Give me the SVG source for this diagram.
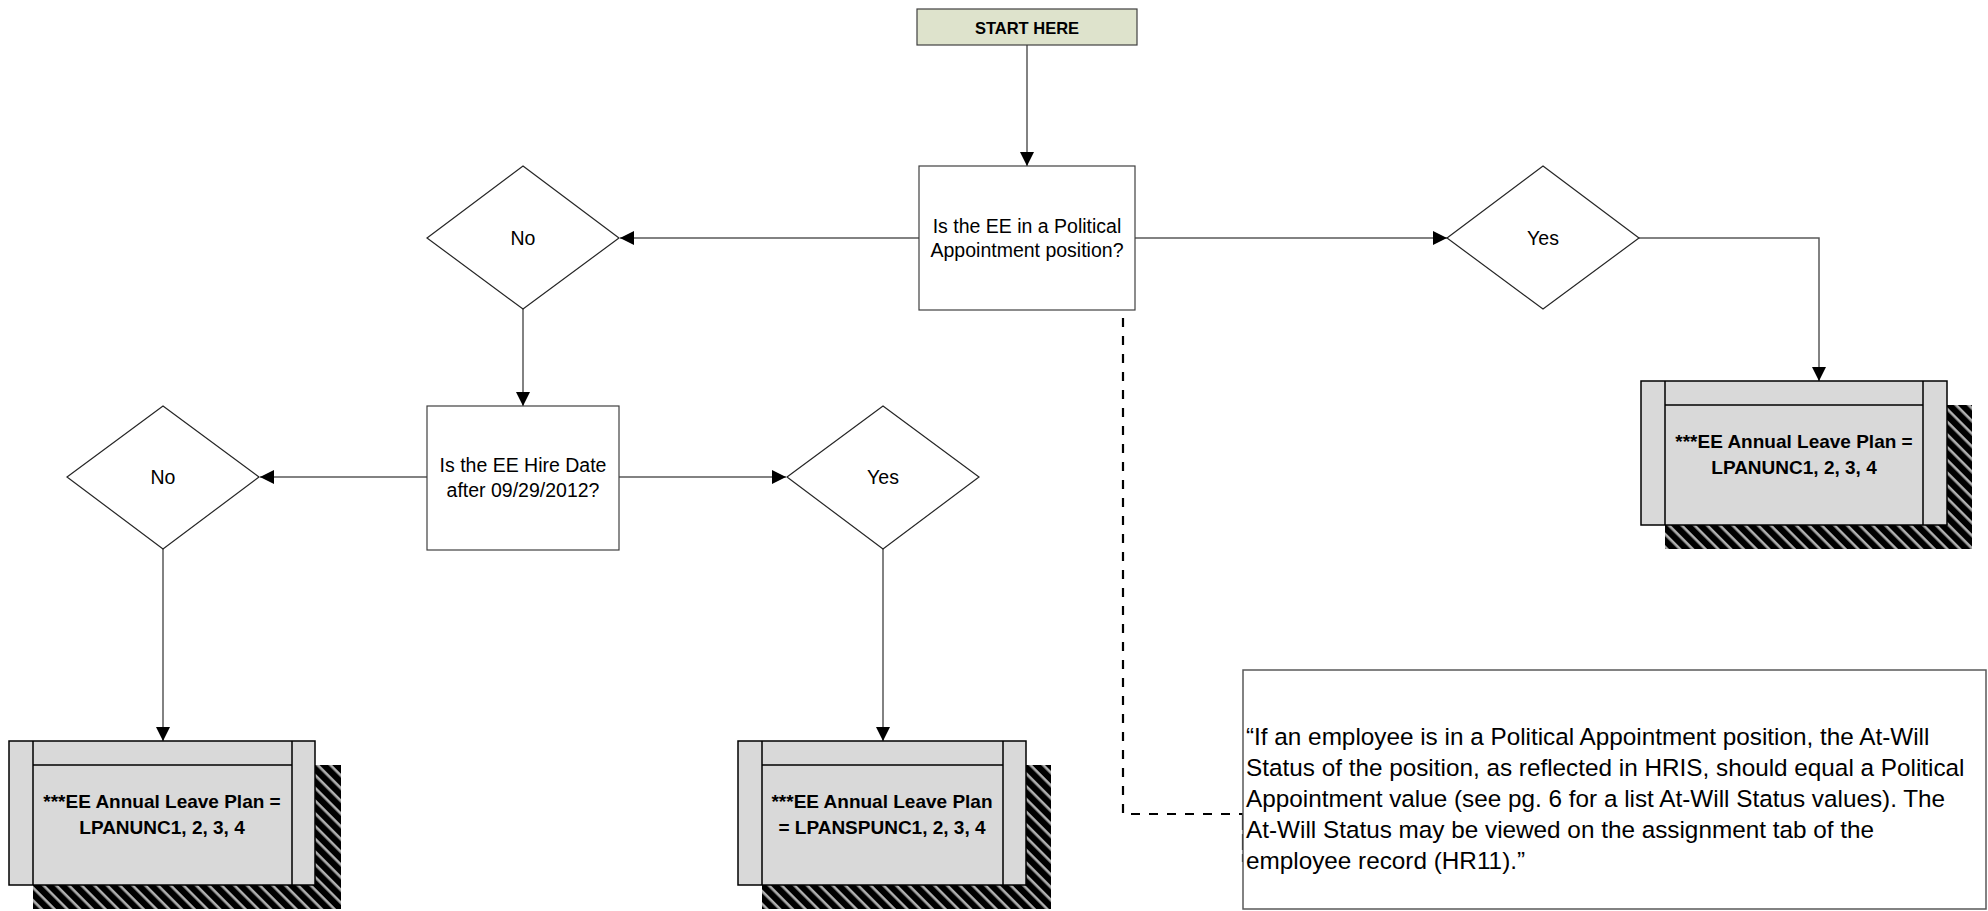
<svg xmlns="http://www.w3.org/2000/svg" width="1988" height="911" viewBox="0 0 1988 911">
<defs>
<style>
.t{font-family:"Liberation Sans",Arial,sans-serif;font-size:19.5px;fill:#000;text-anchor:middle;dominant-baseline:central}
.b{font-weight:bold;font-size:19px}
.s{font-size:16.5px}
.n{font-family:"Liberation Sans",Arial,sans-serif;font-size:24.3px;fill:#000}
.box{fill:#fff;stroke:#404040;stroke-width:1.2}
.dia{fill:#fff;stroke:#262626;stroke-width:1.2}
.out{fill:#d9d9d9;stroke:#000;stroke-width:1.5}
.il{stroke:#000;stroke-width:1.5;fill:none}
.c{fill:none;stroke:#595959;stroke-width:1.5}
.d{fill:none;stroke:#000;stroke-width:2.2;stroke-dasharray:9 9}
</style>
<marker id="ar" viewBox="0 0 14 14" refX="14" refY="7" markerWidth="14" markerHeight="14" markerUnits="userSpaceOnUse" orient="auto">
<path d="M0,0 L14,7 L0,14 Z" fill="#000"/>
</marker>
<pattern id="hatch" patternUnits="userSpaceOnUse" width="9" height="9" patternTransform="rotate(45)">
<rect width="9" height="9" fill="#000"/>
<rect x="0" y="0" width="9" height="2.6" fill="#b0b0b0"/>
</pattern>
</defs>

<g id="connectors">
<line class="c" x1="1027" y1="45" x2="1027" y2="166" marker-end="url(#ar)"/>
<line class="c" x1="919" y1="238" x2="620" y2="238" marker-end="url(#ar)"/>
<line class="c" x1="1135" y1="238" x2="1447" y2="238" marker-end="url(#ar)"/>
<polyline class="c" points="1639,238 1819,238 1819,381" marker-end="url(#ar)"/>
<line class="c" x1="523" y1="309" x2="523" y2="406" marker-end="url(#ar)"/>
<line class="c" x1="427" y1="477" x2="260" y2="477" marker-end="url(#ar)"/>
<line class="c" x1="619" y1="477" x2="786" y2="477" marker-end="url(#ar)"/>
<line class="c" x1="163" y1="549" x2="163" y2="741" marker-end="url(#ar)"/>
<line class="c" x1="883" y1="549" x2="883" y2="741" marker-end="url(#ar)"/>
<polyline class="d" points="1123,318 1123,814 1243,814"/>
<line x1="1243" y1="814" x2="1243" y2="862" stroke="#000" stroke-width="2.2" stroke-dasharray="16 4"/>
</g>

<g id="start">
<rect x="917" y="9" width="220" height="36" fill="#dee3cc" stroke="#404040" stroke-width="1.2"/>
<text class="t b s" x="1027" y="28">START HERE</text>
</g>

<g id="q-political">
<rect class="box" x="919" y="166" width="216" height="144"/>
<text class="t" x="1027" y="226">Is the EE in a Political</text>
<text class="t" x="1027" y="250">Appointment position?</text>
</g>

<g id="no-1">
<polygon class="dia" points="523,166 619,238 523,309 427,238"/>
<text class="t" x="523" y="238">No</text>
</g>

<g id="yes-1">
<polygon class="dia" points="1543,166 1639,238 1543,309 1447,238"/>
<text class="t" x="1543" y="238">Yes</text>
</g>

<g id="q-hire">
<rect class="box" x="427" y="406" width="192" height="144"/>
<text class="t" x="523" y="465">Is the EE Hire Date</text>
<text class="t" x="523" y="490">after 09/29/2012?</text>
</g>

<g id="no-2">
<polygon class="dia" points="163,406 259,477 163,549 67,477"/>
<text class="t" x="163" y="477">No</text>
</g>

<g id="yes-2">
<polygon class="dia" points="883,406 979,477 883,549 787,477"/>
<text class="t" x="883" y="477">Yes</text>
</g>

<g id="result-right">
<rect x="1665" y="405" width="307" height="144" fill="url(#hatch)"/>
<rect class="out" x="1641" y="381" width="306" height="144"/>
<path class="il" d="M1665,381 V525 M1923,381 V525 M1665,405 H1923"/>
<text class="t b" x="1794" y="441">***EE Annual Leave Plan =</text>
<text class="t b" x="1794" y="467">LPANUNC1, 2, 3, 4</text>
</g>

<g id="result-left">
<rect x="33" y="765" width="308" height="144" fill="url(#hatch)"/>
<rect class="out" x="9" y="741" width="306" height="144"/>
<path class="il" d="M33,741 V885 M292,741 V885 M33,765 H292"/>
<text class="t b" x="162" y="801">***EE Annual Leave Plan =</text>
<text class="t b" x="162" y="827">LPANUNC1, 2, 3, 4</text>
</g>

<g id="result-middle">
<rect x="762" y="765" width="289" height="144" fill="url(#hatch)"/>
<rect class="out" x="738" y="741" width="288" height="144"/>
<path class="il" d="M762,741 V885 M1003,741 V885 M762,765 H1003"/>
<text class="t b" x="882" y="801">***EE Annual Leave Plan</text>
<text class="t b" x="882" y="827">= LPANSPUNC1, 2, 3, 4</text>
</g>

<g id="note">
<rect x="1243" y="670" width="743" height="239" fill="#fff" stroke="#595959" stroke-width="1.5"/>
<text class="n" x="1246" y="745">“If an employee is in a Political Appointment position, the At-Will</text>
<text class="n" x="1246" y="776">Status of the position, as reflected in HRIS, should equal a Political</text>
<text class="n" x="1246" y="807">Appointment value (see pg. 6 for a list At-Will Status values). The</text>
<text class="n" x="1246" y="838">At-Will Status may be viewed on the assignment tab of the</text>
<text class="n" x="1246" y="869">employee record (HR11).”</text>
</g>
</svg>
